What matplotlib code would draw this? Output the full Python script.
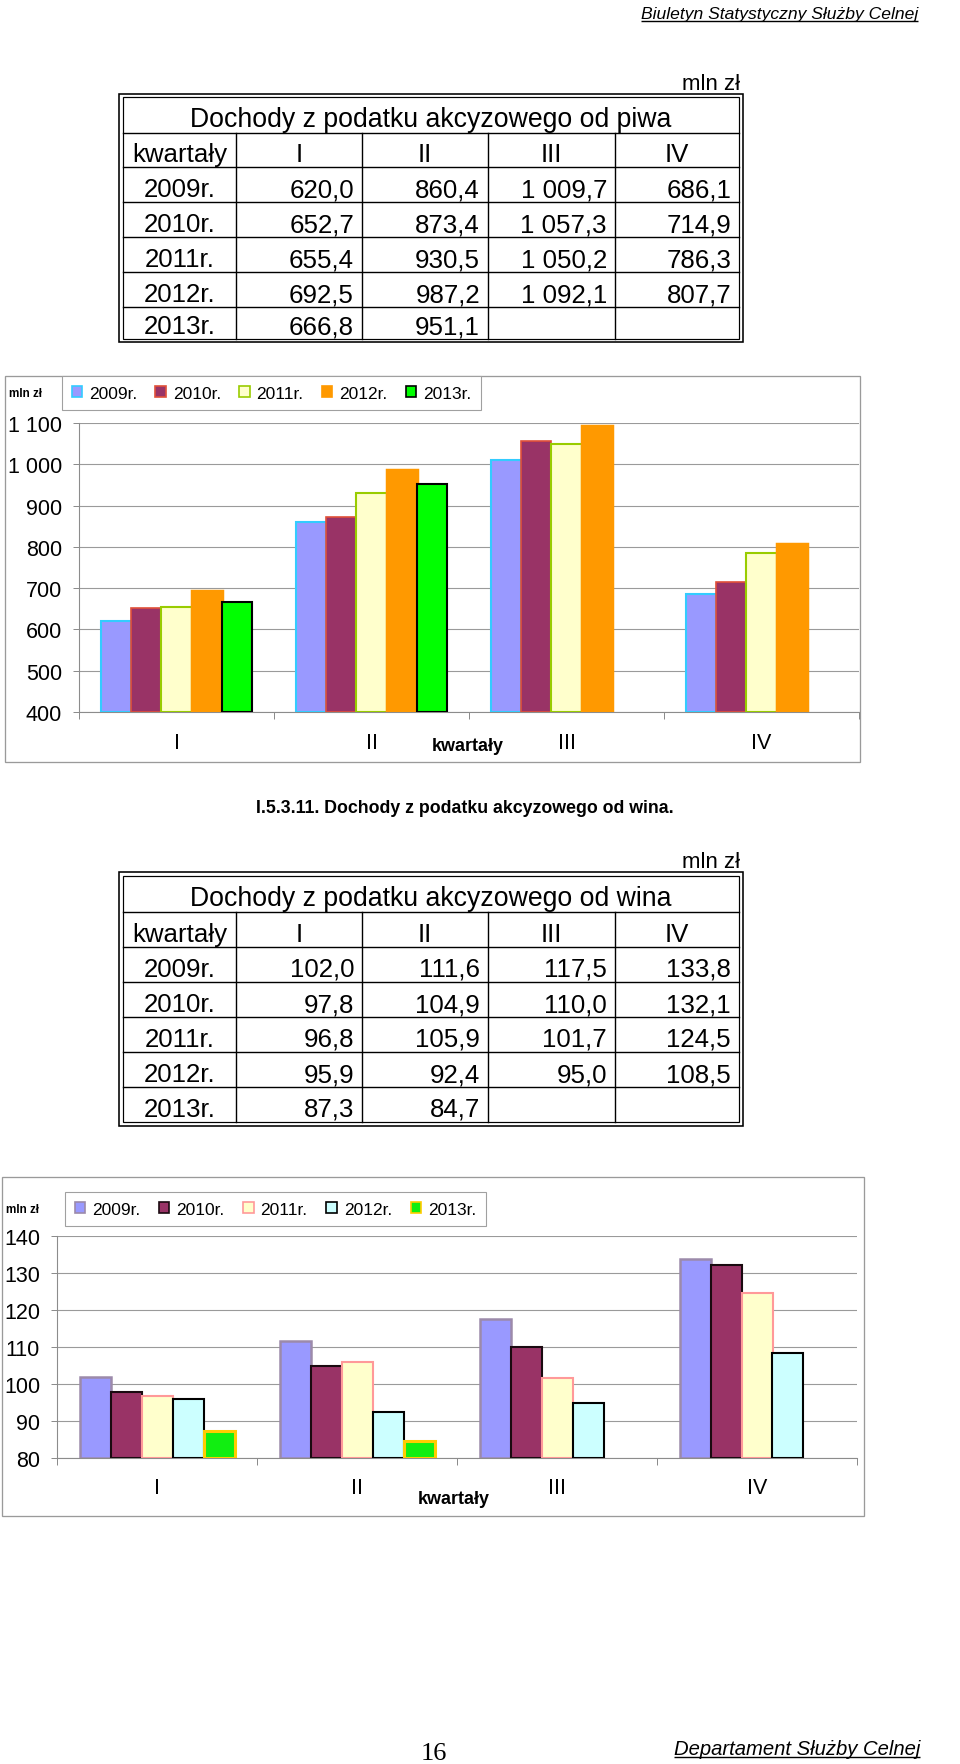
import matplotlib
matplotlib.use("Agg")
import matplotlib.pyplot as plt
from matplotlib.patches import Rectangle, Patch
from matplotlib.ticker import FuncFormatter
import numpy as np

# ---------------- data ----------------
quarters = ["I", "II", "III", "IV"]
years = ["2009r.", "2010r.", "2011r.", "2012r.", "2013r."]

beer_2009 = [620.0, 860.4, 1009.7, 686.1]
beer_2010 = [652.7, 873.4, 1057.3, 714.9]
beer_2011 = [655.4, 930.5, 1050.2, 786.3]
beer_2012 = [692.5, 987.2, 1092.1, 807.7]
beer_2013 = [666.8, 951.1]

wine_2009 = [102.0, 111.6, 117.5, 133.8]
wine_2010 = [97.8, 104.9, 110.0, 132.1]
wine_2011 = [96.8, 105.9, 101.7, 124.5]
wine_2012 = [95.9, 92.4, 95.0, 108.5]
wine_2013 = [87.3, 84.7]

beer_ticks = [400, 500, 600, 700, 800, 900, 1000, 1100]
wine_ticks = [80, 90, 100, 110, 120, 130, 140]

beer_title = "Dochody z podatku akcyzowego od piwa"
wine_title = "Dochody z podatku akcyzowego od wina"
section_title = "I.5.3.11. Dochody z podatku akcyzowego od wina."
unit = "mln zł"
axis_name = "kwartały"
header_text = "Biuletyn Statystyczny Służby Celnej"
footer_text = "Departament Służby Celnej"
page_no = "16"

# ---------------- styles ----------------
W, H, DPI = 960, 1765, 100
PX = 72.0 / DPI  # points per pixel
plt.rcParams['font.family'] = ['Liberation Sans', 'DejaVu Sans']

beer_styles = [
    dict(facecolor='#9999FF', edgecolor='#33CCFF', lw=1.5),
    dict(facecolor='#993366', edgecolor='#E0503A', lw=1.2),
    dict(facecolor='#FFFFCC', edgecolor='#99CC00', lw=1.5),
    dict(facecolor='#FF9900', edgecolor='#FF9900', lw=2.5),
    dict(facecolor='#00FF00', edgecolor='#000000', lw=1.5),
]
wine_styles = [
    dict(facecolor='#9999FF', edgecolor='#9C8AAA', lw=1.8),
    dict(facecolor='#993366', edgecolor='#1A0A10', lw=1.5),
    dict(facecolor='#FFFFCC', edgecolor='#FF9999', lw=1.5),
    dict(facecolor='#CCFFFF', edgecolor='#000000', lw=1.5),
    dict(facecolor='#11EE11', edgecolor='#FFCC00', lw=2.2),
]

fig = plt.figure(figsize=(W / DPI, H / DPI), dpi=DPI)
fig.patch.set_facecolor('white')

page = fig.add_axes([0, 0, 1, 1], zorder=0)
page.set_xlim(0, W)
page.set_ylim(H, 0)
page.axis('off')


def frac_rect(x0, y0, x1, y1):
    return [x0 / W, 1 - y1 / H, (x1 - x0) / W, (y1 - y0) / H]


def fmt_pl(v):
    return f"{v:,.1f}".replace(",", " ").replace(".", ",")


def fmt_tick(v, pos=None):
    return f"{int(v):,}".replace(",", " ")


# ---------------- header / footer ----------------
renderer = fig.canvas.get_renderer()


def underlined(x, y, s, size):
    t = page.text(x, y, s, ha='right', va='baseline', fontsize=size,
                  style='italic', color='black')
    bb = t.get_window_extent(renderer=renderer)
    x0 = bb.x0
    page.plot([x0, x], [y + 3, y + 3], color='black', lw=1.4 * PX,
              solid_capstyle='butt')


underlined(918, 19, header_text, 12.6)
underlined(920, 1755, footer_text, 14.6)
page.text(434, 1760, page_no, ha='center', va='baseline', fontsize=19,
          family=['Liberation Serif', 'DejaVu Serif'])

# ---------------- tables ----------------
col_x = [123, 236, 362, 488, 615, 739]


def draw_table(top, inner_gap, row_off, title, rows):
    inner_top = top + inner_gap
    ys = [inner_top + r for r in row_off]
    bottom = ys[-1]
    page.add_patch(Rectangle((119, top), 743 - 119, (bottom + inner_gap) - top,
                             fill=False, ec='black', lw=1.6 * PX))
    page.add_patch(Rectangle((col_x[0], inner_top), col_x[-1] - col_x[0],
                             bottom - inner_top, fill=False, ec='black', lw=1.2 * PX))
    for y in ys[1:-1]:
        page.plot([col_x[0], col_x[-1]], [y, y], color='black', lw=1.4 * PX)
    for x in col_x[1:-1]:
        page.plot([x, x], [ys[1], bottom], color='black', lw=1.4 * PX)
    fs = 18.6
    page.text((119 + 743) / 2, ys[1] - 7, title, ha='center', va='baseline', fontsize=19.2)
    page.text((col_x[0] + col_x[1]) / 2, ys[2] - 6, axis_name, ha='center',
              va='baseline', fontsize=fs)
    for i, q in enumerate(quarters):
        page.text((col_x[i + 1] + col_x[i + 2]) / 2, ys[2] - 6, q, ha='center',
                  va='baseline', fontsize=fs)
    for r, (yl, vals) in enumerate(rows):
        yb = ys[r + 3] - 6
        page.text((col_x[0] + col_x[1]) / 2, yb, yl, ha='center', va='baseline', fontsize=fs)
        for i, v in enumerate(vals):
            page.text(col_x[i + 2] - 8, yb, fmt_pl(v), ha='right', va='baseline', fontsize=fs)
    page.text(740, top - 5, unit, ha='right', va='baseline', fontsize=16)


beer_rows = list(zip(years, [beer_2009, beer_2010, beer_2011, beer_2012, beer_2013]))
wine_rows = list(zip(years, [wine_2009, wine_2010, wine_2011, wine_2012, wine_2013]))
draw_table(95, 3, [0, 36, 70, 105, 140, 175, 210, 242], beer_title, beer_rows)
draw_table(873, 4, [0, 36, 71, 106, 141, 176, 211, 246], wine_title, wine_rows)

page.text(256, 813, section_title, ha='left', va='baseline', fontsize=12.8,
          weight='bold')


# ---------------- charts ----------------
def draw_chart(box, plot, series, styles, ticks, legend_box, kw_xy, lab_pad):
    bx0, by0, bx1, by1 = box
    page.add_patch(Rectangle((bx0, by0), bx1 - bx0, by1 - by0, fill=False,
                             ec='#9A9A9A', lw=1.3 * PX))
    page.text(bx0 + 4, legend_box[1] + 20, unit, ha='left', va='baseline',
              fontsize=8.4, weight='bold')
    ax = fig.add_axes(frac_rect(*plot), zorder=2)
    ax.patch.set_alpha(0)
    ymin, ymax = ticks[0], ticks[-1]
    w = 0.155
    n = len(series)
    for j, (vals, st) in enumerate(zip(series, styles)):
        xs = np.arange(len(vals)) + (j - (n - 1) / 2) * w
        ax.bar(xs, np.array(vals) - ymin, bottom=ymin, width=w,
               facecolor=st['facecolor'], edgecolor=st['edgecolor'],
               linewidth=st['lw'], zorder=3)
    ax.set_xlim(-0.5, 3.5)
    ax.set_ylim(ymin, ymax)
    ax.set_yticks(ticks)
    ax.yaxis.set_major_formatter(FuncFormatter(fmt_tick))
    ax.set_xticks(range(4))
    ax.set_xticklabels(quarters)
    ax.set_xticks([-0.5, 0.5, 1.5, 2.5, 3.5], minor=True)
    ax.tick_params(axis='x', which='major', length=0, pad=lab_pad, labelsize=15.5)
    ax.tick_params(axis='x', which='minor', length=7 * PX, width=1.0 * PX,
                   color='#8C8C8C', direction='out')
    ax.tick_params(axis='y', which='major', length=6 * PX, width=1.0 * PX,
                   color='#8C8C8C', direction='out', pad=11 * PX, labelsize=15.5)
    ax.yaxis.grid(True, color='#9A9A9A', lw=1.1 * PX, zorder=0)
    ax.set_axisbelow(True)
    for s in ['top', 'right']:
        ax.spines[s].set_visible(False)
    for s in ['left', 'bottom']:
        ax.spines[s].set_color('#8C8C8C')
        ax.spines[s].set_linewidth(1.1 * PX)
    handles = [Patch(facecolor=st['facecolor'], edgecolor=st['edgecolor'],
                     linewidth=1.2) for st in styles]
    lx0, ly0, lx1, ly1 = legend_box
    leg = ax.legend(handles, years, loc='upper left', ncol=5, mode='expand',
                    bbox_to_anchor=(lx0 / W, 1 - ly1 / H, (lx1 - lx0) / W, (ly1 - ly0) / H),
                    bbox_transform=fig.transFigure, fontsize=12.5,
                    handlelength=0.6, handleheight=0.6, handletextpad=0.4,
                    borderpad=0.55, borderaxespad=0, frameon=True, fancybox=False,
                    edgecolor='#A0A0A0', framealpha=1, columnspacing=0.8)
    leg.get_frame().set_linewidth(1.1 * PX)
    page.text(kw_xy[0], kw_xy[1], axis_name, ha='center', va='center',
              fontsize=13, weight='bold')
    return ax


draw_chart((5, 377, 860, 763), (79, 424, 859, 713),
           [beer_2009, beer_2010, beer_2011, beer_2012, beer_2013], beer_styles,
           beer_ticks, (62, 377, 481, 413), (468, 746), 14.5)

draw_chart((2, 1178, 864, 1517), (57, 1237, 857, 1459),
           [wine_2009, wine_2010, wine_2011, wine_2012, wine_2013], wine_styles,
           wine_ticks, (65, 1193, 486, 1227), (454, 1500), 13.7)

fig.savefig("out.png", dpi=DPI, facecolor='white')
